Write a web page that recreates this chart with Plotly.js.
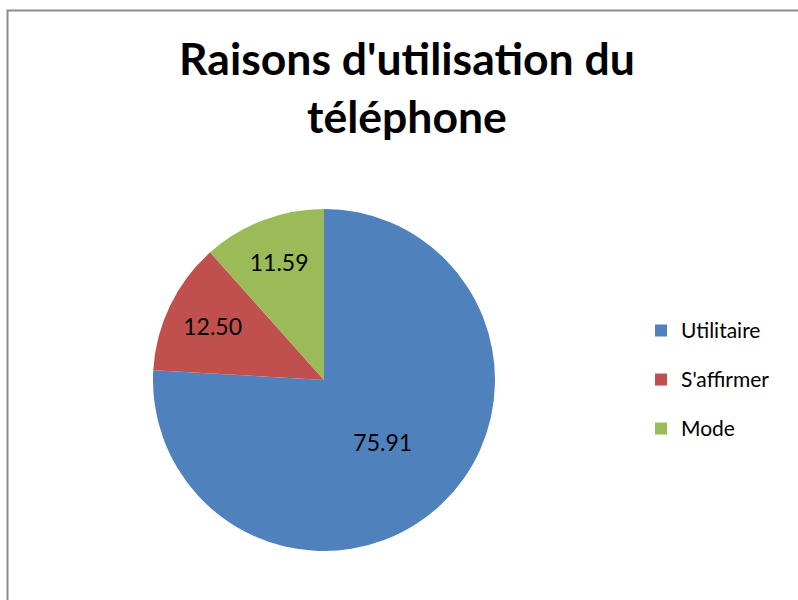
<!DOCTYPE html>
<html>
<head>
<meta charset="utf-8">
<script src="https://cdn.plot.ly/plotly-3.0.1.min.js"></script>
<style>html,body{margin:0;padding:0;background:#fff;}#chart{width:798px;height:600px;}</style>
</head>
<body>
<div id="chart"></div>
<script>
const categories = ["Utilitaire", "S'affirmer", "Mode"];
const values = [75.91, 12.50, 11.59];
const colors = ["#4F81BD", "#C0504D", "#9BBB59"];
const titleText = "Raisons d'utilisation du<br>téléphone";

const W = 798, H = 600;
const cx = 324, cy = 380, R = 171;
const FONT = 'Lato, "Open Sans", sans-serif';

// legend entries: text at 21px inside a taller legend line to get Excel-like spacing
const legendLabels = categories.map(c =>
  '<span style="font-size:21px;baseline-shift:6px">' + c + '</span>');

const trace = {
  type: 'pie',
  labels: legendLabels,
  values: values,
  marker: {colors: colors, line: {color: '#ffffff', width: 0}},
  sort: false,
  direction: 'clockwise',
  rotation: 0,
  texttemplate: '%{value:.2f}',
  textposition: 'inside',
  insidetextorientation: 'horizontal',
  textfont: {family: FONT, size: 23, color: '#000000'},
  hoverinfo: 'value',
  domain: {x: [(cx - R) / W, (cx + R) / W], y: [(H - cy - R) / H, (H - cy + R) / H]}
};

const layout = {
  width: W, height: H,
  margin: {l: 0, r: 0, t: 0, b: 0},
  paper_bgcolor: '#ffffff',
  showlegend: true,
  title: {
    text: titleText,
    font: {family: FONT, size: 44.5, color: '#000000', weight: 'bold'},
    x: 407 / W, xanchor: 'center',
    y: 1 - 75 / H, yanchor: 'top'
  },
  legend: {
    x: 641 / W, xanchor: 'left',
    y: 1 - 380 / H, yanchor: 'middle',
    font: {family: FONT, size: 35.4, color: '#000000'},
    bgcolor: 'rgba(0,0,0,0)'
  },
  shapes: [{
    type: 'rect', xref: 'paper', yref: 'paper',
    x0: 7.5 / W, x1: 1.2, y0: -0.2, y1: 1 - 10.5 / H,
    line: {color: '#8c8c8c', width: 2}, fillcolor: 'rgba(0,0,0,0)'
  }]
};

Plotly.newPlot('chart', [trace], layout, {displayModeBar: false, staticPlot: true});
</script>
</body>
</html>
